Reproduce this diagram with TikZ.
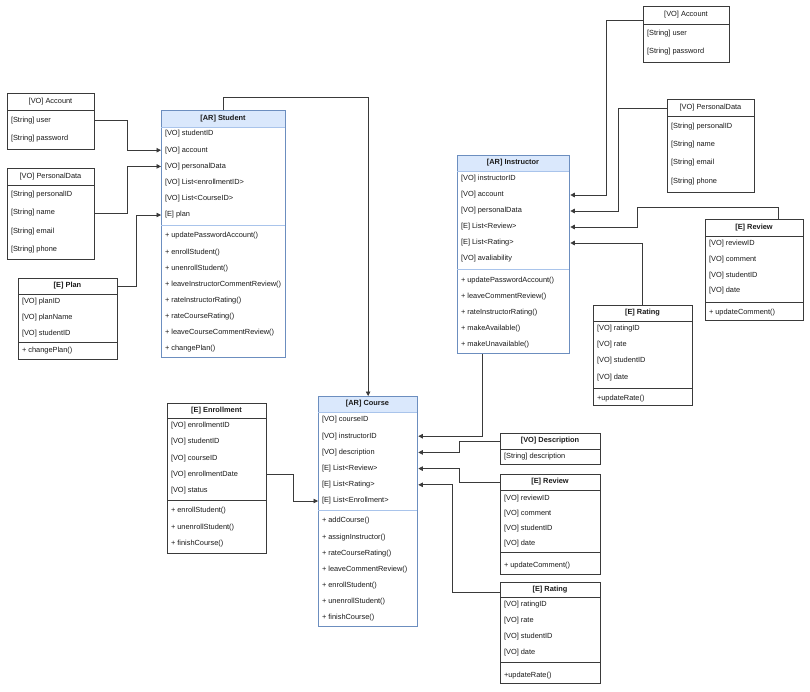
\documentclass[tikz,border=0pt]{standalone}
\usepackage{fontspec}
\setmainfont{Liberation Sans}
\usetikzlibrary{arrows.meta,calc}
\definecolor{linec}{HTML}{3A3A3A}
\definecolor{txtc}{HTML}{1A1A1A}
\definecolor{arblue}{HTML}{6C8EBF}
\definecolor{arfill}{HTML}{DAE8FC}
\definecolor{arsep}{HTML}{A9C4EB}
\tikzset{
  box/.style={draw=linec, line width=0.6pt, fill=white, anchor=north west, inner sep=0pt},
  arbox/.style={draw=arblue, line width=1.3pt, fill=white, anchor=north west, inner sep=0pt,
    path picture={\fill[arfill] (path picture bounding box.north west) rectangle ([yshift=-#1]path picture bounding box.north east);}},
  txt/.style={font=\fontsize{7.4}{9}\selectfont, text=txtc, inner xsep=3.8pt, inner ysep=0pt, anchor=west},
  head/.style={font=\fontsize{7.4}{9}\selectfont\bfseries, text=txtc, inner sep=0pt},
  headn/.style={font=\fontsize{7.4}{9}\selectfont, text=txtc, inner sep=0pt},
  sepl/.style={draw=linec, line width=0.6pt},
  arsepl/.style={draw=arsep, line width=0.6pt},
  conn/.style={draw=linec, line width=0.7pt, -{Triangle[length=4.5pt,width=4.5pt]}},
}
\begin{document}
\begin{tikzpicture}[x=1pt,y=-1pt]
\useasboundingbox (0,0) rectangle (810,691);

% ---------- Left Account ----------
\node[box, minimum width=87pt, minimum height=55.5pt] (accL) at (7,93) {};
\node[headn] (accL-h) at (50.5,101.5) {[VO] Account};
\draw[sepl] (7,110.5) -- (94,110.5);
\node[txt] (accL-user) at (7,120.5) {[String] user};
\node[txt] (accL-pw) at (7,139) {[String] password};

% ---------- Left PersonalData ----------
\node[box, minimum width=87pt, minimum height=90.5pt] (pdL) at (7,168) {};
\node[headn] (pdL-h) at (50.5,176.5) {[VO] PersonalData};
\draw[sepl] (7,185) -- (94,185);
\node[txt] (pdL-id) at (7,194.5) {[String] personalID};
\node[txt] (pdL-name) at (7,213) {[String] name};
\node[txt] (pdL-mail) at (7,231.5) {[String] email};
\node[txt] (pdL-phone) at (7,250) {[String] phone};

% ---------- Plan ----------
\node[box, minimum width=99pt, minimum height=81pt] (plan) at (18,278) {};
\node[head] (plan-h) at (67.5,286) {[E] Plan};
\draw[sepl] (18,294) -- (117,294);
\node[txt] (plan-id) at (18,302) {[VO] planID};
\node[txt] (plan-name) at (18,318) {[VO] planName};
\node[txt] (plan-st) at (18,334) {[VO] studentID};
\draw[sepl] (18,342) -- (117,342);
\node[txt] (plan-m1) at (18,350.5) {+ changePlan()};

% ---------- Student ----------
\node[arbox=17pt, minimum width=124pt, minimum height=247pt] (st) at (161,110) {};
\draw[arsepl] (161,127) -- (285,127);
\node[head] (st-h) at (223,118.5) {[AR] Student};
\node[txt] (st-id) at (161,134) {[VO] studentID};
\node[txt] (st-acc) at (161,150.2) {[VO] account};
\node[txt] (st-pd) at (161,166.4) {[VO] personalData};
\node[txt] (st-enr) at (161,182.6) {[VO] List<enrollmentID>};
\node[txt] (st-crs) at (161,198.8) {[VO] List<CourseID>};
\node[txt] (st-plan) at (161,215) {[E] plan};
\draw[arsepl] (161,225) -- (285,225);
\node[txt] (st-m1) at (161,236) {+ updatePasswordAccount()};
\node[txt] (st-m2) at (161,252.1) {+ enrollStudent()};
\node[txt] (st-m3) at (161,268.3) {+ unenrollStudent()};
\node[txt] (st-m4) at (161,284.4) {+ leaveInstructorCommentReview()};
\node[txt] (st-m5) at (161,300.6) {+ rateInstructorRating()};
\node[txt] (st-m6) at (161,316.7) {+ rateCourseRating()};
\node[txt] (st-m7) at (161,332.8) {+ leaveCourseCommentReview()};
\node[txt] (st-m8) at (161,349) {+ changePlan()};

% ---------- Instructor ----------
\node[arbox=16pt, minimum width=112pt, minimum height=198pt] (ins) at (457,155) {};
\draw[arsepl] (457,171) -- (569,171);
\node[head] (ins-h) at (513,163) {[AR] Instructor};
\node[txt] (ins-id) at (457,179) {[VO] instructorID};
\node[txt] (ins-acc) at (457,195) {[VO] account};
\node[txt] (ins-pd) at (457,211) {[VO] personalData};
\node[txt] (ins-rev) at (457,227) {[E] List<Review>};
\node[txt] (ins-rat) at (457,243) {[E] List<Rating>};
\node[txt] (ins-av) at (457,259) {[VO] avaliability};
\draw[arsepl] (457,269) -- (569,269);
\node[txt] (ins-m1) at (457,281) {+ updatePasswordAccount()};
\node[txt] (ins-m2) at (457,297) {+ leaveCommentReview()};
\node[txt] (ins-m3) at (457,313) {+ rateInstructorRating()};
\node[txt] (ins-m4) at (457,329) {+ makeAvailable()};
\node[txt] (ins-m5) at (457,345) {+ makeUnavailable()};

% ---------- Right Account ----------
\node[box, minimum width=86pt, minimum height=56pt] (accR) at (643,6) {};
\node[headn] (accR-h) at (686,15) {[VO] Account};
\draw[sepl] (643,24.5) -- (729,24.5);
\node[txt] (accR-user) at (643,34) {[String] user};
\node[txt] (accR-pw) at (643,52) {[String] password};

% ---------- Right PersonalData ----------
\node[box, minimum width=87pt, minimum height=92.5pt] (pdR) at (667,99) {};
\node[headn] (pdR-h) at (710.5,108) {[VO] PersonalData};
\draw[sepl] (667,116.5) -- (754,116.5);
\node[txt] (pdR-id) at (667,126.5) {[String] personalID};
\node[txt] (pdR-name) at (667,145) {[String] name};
\node[txt] (pdR-mail) at (667,163) {[String] email};
\node[txt] (pdR-phone) at (667,181.5) {[String] phone};

% ---------- Right Review ----------
\node[box, minimum width=98pt, minimum height=101pt] (revR) at (705,219) {};
\node[head] (revR-h) at (754,228) {[E] Review};
\draw[sepl] (705,236.5) -- (803,236.5);
\node[txt] (revR-id) at (705,244) {[VO] reviewID};
\node[txt] (revR-cm) at (705,259.5) {[VO] comment};
\node[txt] (revR-st) at (705,275.5) {[VO] studentID};
\node[txt] (revR-dt) at (705,291) {[VO] date};
\draw[sepl] (705,302) -- (803,302);
\node[txt] (revR-m1) at (705,312.5) {+ updateComment()};

% ---------- Right Rating ----------
\node[box, minimum width=99pt, minimum height=100pt] (ratR) at (593,305) {};
\node[head] (ratR-h) at (642.5,313) {[E] Rating};
\draw[sepl] (593,321) -- (692,321);
\node[txt] (ratR-id) at (593,329) {[VO] ratingID};
\node[txt] (ratR-rt) at (593,345) {[VO] rate};
\node[txt] (ratR-st) at (593,361) {[VO] studentID};
\node[txt] (ratR-dt) at (593,377.5) {[VO] date};
\draw[sepl] (593,388) -- (692,388);
\node[txt] (ratR-m1) at (593,398.5) {+updateRate()};

% ---------- Course ----------
\node[arbox=16pt, minimum width=99pt, minimum height=230pt] (co) at (318,396) {};
\draw[arsepl] (318,412) -- (417,412);
\node[head] (co-h) at (367.5,404) {[AR] Course};
\node[txt] (co-id) at (318,420) {[VO] courseID};
\node[txt] (co-ins) at (318,436.2) {[VO] instructorID};
\node[txt] (co-desc) at (318,452.4) {[VO] description};
\node[txt] (co-rev) at (318,468.6) {[E] List<Review>};
\node[txt] (co-rat) at (318,484.8) {[E] List<Rating>};
\node[txt] (co-enr) at (318,501) {[E] List<Enrollment>};
\draw[arsepl] (318,510) -- (417,510);
\node[txt] (co-m1) at (318,521) {+ addCourse()};
\node[txt] (co-m2) at (318,537.2) {+ assignInstructor()};
\node[txt] (co-m3) at (318,553.3) {+ rateCourseRating()};
\node[txt] (co-m4) at (318,569.5) {+ leaveCommentReview()};
\node[txt] (co-m5) at (318,585.7) {+ enrollStudent()};
\node[txt] (co-m6) at (318,601.8) {+ unenrollStudent()};
\node[txt] (co-m7) at (318,618) {+ finishCourse()};

% ---------- Enrollment ----------
\node[box, minimum width=99pt, minimum height=150pt] (en) at (167,403) {};
\node[head] (en-h) at (216.5,410.5) {[E] Enrollment};
\draw[sepl] (167,418) -- (266,418);
\node[txt] (en-id) at (167,426) {[VO] enrollmentID};
\node[txt] (en-st) at (167,442) {[VO] studentID};
\node[txt] (en-co) at (167,458.5) {[VO] courseID};
\node[txt] (en-date) at (167,474.5) {[VO] enrollmentDate};
\node[txt] (en-stat) at (167,491) {[VO] status};
\draw[sepl] (167,500) -- (266,500);
\node[txt] (en-m1) at (167,511) {+ enrollStudent()};
\node[txt] (en-m2) at (167,527.5) {+ unenrollStudent()};
\node[txt] (en-m3) at (167,544) {+ finishCourse()};

% ---------- Description ----------
\node[box, minimum width=100pt, minimum height=31pt] (desc) at (500,433) {};
\node[head] (desc-h) at (550,441) {[VO] Description};
\draw[sepl] (500,449) -- (600,449);
\node[txt] (desc-d) at (500,457) {[String] description};

% ---------- Bottom Review ----------
\node[box, minimum width=100pt, minimum height=100pt] (revB) at (500,474) {};
\node[head] (revB-h) at (550,482) {[E] Review};
\draw[sepl] (500,490) -- (600,490);
\node[txt] (revB-id) at (500,498.7) {[VO] reviewID};
\node[txt] (revB-cm) at (500,513.7) {[VO] comment};
\node[txt] (revB-st) at (500,528.5) {[VO] studentID};
\node[txt] (revB-dt) at (500,543.5) {[VO] date};
\draw[sepl] (500,552) -- (600,552);
\node[txt] (revB-m1) at (500,566) {+ updateComment()};

% ---------- Bottom Rating ----------
\node[box, minimum width=100pt, minimum height=101pt] (ratB) at (500,582) {};
\node[head] (ratB-h) at (550,589.5) {[E] Rating};
\draw[sepl] (500,597) -- (600,597);
\node[txt] (ratB-id) at (500,605) {[VO] ratingID};
\node[txt] (ratB-rt) at (500,621) {[VO] rate};
\node[txt] (ratB-st) at (500,637) {[VO] studentID};
\node[txt] (ratB-dt) at (500,653) {[VO] date};
\draw[sepl] (500,662) -- (600,662);
\node[txt] (ratB-m1) at (500,676) {+updateRate()};

% ---------- Connectors ----------
\draw[conn] (accL-user.west -| accL.east) -- ++(33,0) |- (st-acc.west);
\draw[conn] (pdL-name.west -| pdL.east) -- ++(33,0) |- (st-pd.west);
\draw[conn] (plan-h.center -| plan.east) -- ++(19,0) |- (st-plan.west);
\draw[conn] (st.north) -- ++(0,-13) -| (co.north);
\draw[conn] ([yshift=-14.5pt]accR.north west) -- ++(-37,0) |- (ins-acc.west -| ins.east);
\draw[conn] (pdR-h.center -| pdR.west) -- ++(-49,0) |- (ins-pd.west -| ins.east);
\draw[conn] ([xshift=24pt]revR.north) -- ++(0,-12) -- ++(-141,0) |- (ins-rev.west -| ins.east);
\draw[conn] (ratR.north) |- (ins-rat.west -| ins.east);
\draw[conn] ([xshift=-31pt]ins.south) |- (co-ins.west -| co.east);
\draw[conn] (en-date.west -| en.east) -- ++(27,0) |- (co-enr.west);
\draw[conn] (desc-h.center -| desc.west) -- ++(-41,0) |- (co-desc.west -| co.east);
\draw[conn] (revB-h.center -| revB.west) -- ++(-41,0) |- (co-rev.west -| co.east);
\draw[conn] ([yshift=-10pt]ratB.north west) -- ++(-48,0) |- (co-rat.west -| co.east);
\end{tikzpicture}
\end{document}
